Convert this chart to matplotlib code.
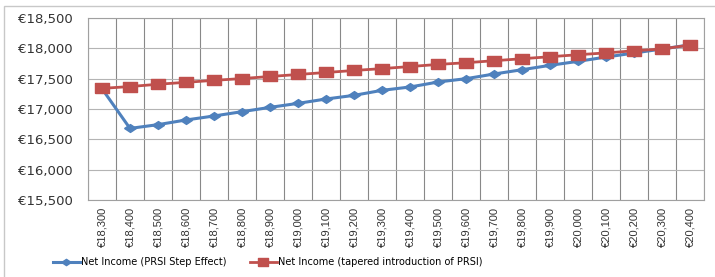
import matplotlib.pyplot as plt
from matplotlib.patches import Rectangle
from matplotlib.ticker import FuncFormatter

# Gross income categories
incomes = [18300, 18400, 18500, 18600, 18700, 18800, 18900, 19000, 19100, 19200, 19300,
           19400, 19500, 19600, 19700, 19800, 19900, 20000, 20100, 20200, 20300, 20400]
labels = ["€{:,}".format(v) for v in incomes]

# Net income, PRSI step effect
net_step = [17335, 16680, 16742, 16819, 16885, 16956, 17027, 17093, 17165, 17225, 17308,
            17363, 17445, 17500, 17577, 17648, 17720, 17786, 17857, 17923, 17990, 18058]
# Net income, tapered introduction of PRSI
net_taper = [17340, 17370, 17408, 17440, 17472, 17502, 17536, 17569, 17602, 17635, 17666,
             17700, 17735, 17763, 17796, 17829, 17862, 17895, 17925, 17960, 17990, 18055]

blue = "#4F81BD"
red = "#C0504D"

# the original image is stretched sideways, so markers are wider than tall
wide_square = [(-1.45, -1), (1.45, -1), (1.45, 1), (-1.45, 1), (-1.45, -1)]
wide_diamond = [(-1.5, 0), (0, 1), (1.5, 0), (0, -1), (-1.5, 0)]

fig = plt.figure(figsize=(7.15, 2.77), dpi=100)
ax = fig.add_axes([0.123, 0.278, 0.862, 0.657])

x = list(range(len(incomes)))
ax.plot(x, net_step, color=blue, lw=2.2, marker=wide_diamond, ms=8.5, zorder=3,
        label="Net Income (PRSI Step Effect)")
ax.plot(x, net_taper, color=red, lw=2, marker=wide_square, ms=9.5, zorder=4,
        label="Net Income (tapered introduction of PRSI)")

ax.set_xlim(-0.5, len(incomes) - 0.5)
ax.set_ylim(15500, 18500)
ax.set_yticks(range(15500, 18501, 500))
ax.yaxis.set_major_formatter(FuncFormatter(lambda v, p: "€{:,.0f}".format(v)))
ax.set_xticks(x)
ax.set_xticklabels(labels, rotation=90, fontsize=8,
                   family=["Liberation Sans Narrow", "Liberation Sans"])
ax.tick_params(axis="x", length=0, pad=5, colors="#333333")
ax.tick_params(axis="y", length=0, labelsize=9.5, pad=11, colors="#333333")

# category boundary gridlines (Excel style)
for b in range(len(incomes) + 1):
    ax.axvline(b - 0.5, color="#888888", lw=0.8, zorder=1)
ax.grid(axis="y", color="#B4B4B4", lw=0.8, zorder=1)
for s in ax.spines.values():
    s.set_color("#A0A0A0")
    s.set_linewidth(0.8)

fig.legend(*ax.get_legend_handles_labels(), loc="center", bbox_to_anchor=(0.375, 0.054),
           ncol=2, frameon=False, fontsize=7, handlelength=2.7, columnspacing=2.4,
           borderpad=0, handletextpad=0.2, markerscale=0.8)

fig.patches.append(Rectangle((0.006, -0.01), 1.2, 0.988, transform=fig.transFigure,
                             fill=False, edgecolor="#C8C8C8", lw=1))

fig.savefig("out.png", dpi=100)
